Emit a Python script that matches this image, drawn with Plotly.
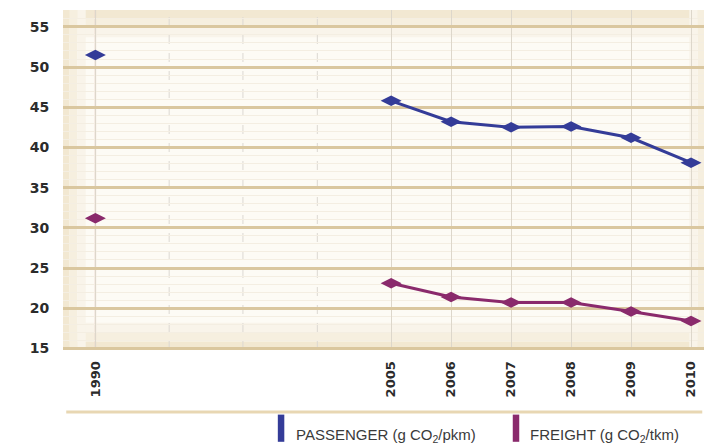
import plotly.graph_objects as go

years = ["1990", "2005", "2006", "2007", "2008", "2009", "2010"]
passenger = [51.5, 45.8, 43.2, 42.5, 42.6, 41.2, 38.1]
freight = [31.2, 23.1, 21.4, 20.7, 20.7, 19.6, 18.4]
y_ticks = [15, 20, 25, 30, 35, 40, 45, 50, 55]

# axis positions: 2005..2010 are one unit apart, 1990 sits further left (broken axis)
def xpos(y):
    y = int(y)
    return y - 2005 if y >= 2005 else -4.93

xs = [xpos(y) for y in years]
dash_x = [-3.70, -2.47, -1.23]

BLUE = "#343c98"
MAG = "#8a2a6c"
TAN = "#dac79f"
TICKFONT = "DejaVu Sans, Liberation Sans, Arial"
LEGFONT = "Liberation Sans, Arial"

fig = go.Figure()

for vals, col in ((passenger, BLUE), (freight, MAG)):
    fig.add_trace(go.Scatter(x=xs[1:], y=vals[1:], mode="lines+markers",
                             line=dict(color=col, width=3),
                             marker=dict(symbol="diamond-wide", size=15, color=col),
                             showlegend=False, hoverinfo="skip"))
    fig.add_trace(go.Scatter(x=xs[:1], y=vals[:1], mode="markers",
                             marker=dict(symbol="diamond-wide", size=15, color=col),
                             showlegend=False, hoverinfo="skip"))

shapes = []
# background edge shading (cream gradient toward edges)
for c, a, b in [("#f2e8d2", 0.0, 0.025), ("#f6efdf", 0.025, 0.05), ("#f9f4ea", 0.05, 0.08)]:
    shapes.append(dict(type="rect", xref="paper", yref="paper", x0=0, x1=1, y0=1 - b, y1=1 - a,
                       fillcolor=c, line_width=0, layer="below"))
    shapes.append(dict(type="rect", xref="paper", yref="paper", x0=0, x1=1, y0=a, y1=b,
                       fillcolor=c, line_width=0, layer="below"))
for c, a, b in [("#f2e8d2", 0.0, 0.01), ("#f6efdf", 0.01, 0.022), ("#f9f4ea", 0.022, 0.035)]:
    shapes.append(dict(type="rect", xref="paper", yref="paper", x0=a, x1=b, y0=0, y1=1,
                       fillcolor=c, line_width=0, layer="below"))
    shapes.append(dict(type="rect", xref="paper", yref="paper", x0=1 - b, x1=1 - a, y0=0, y1=1,
                       fillcolor=c, line_width=0, layer="below"))
# dashed separators in the axis gap
for dx in dash_x:
    shapes.append(dict(type="line", xref="x", yref="paper", x0=dx, x1=dx, y0=0, y1=1,
                       line=dict(color="#dcd8d2", width=1, dash="dash"), layer="below"))
# light pink line at 1990
shapes.append(dict(type="line", xref="x", yref="paper", x0=xs[0], x1=xs[0], y0=0, y1=1,
                   line=dict(color="#ead3cc", width=1.5), layer="below"))
# separator line above legend
shapes.append(dict(type="line", xref="paper", yref="paper", x0=0.005, x1=0.985,
                   y0=-0.182, y1=-0.182, line=dict(color="#e8d7b3", width=3)))
# legend bars
shapes.append(dict(type="rect", xref="paper", yref="paper", x0=0.331, x1=0.341,
                   y0=-0.27, y1=-0.19, fillcolor=BLUE, line_width=0))
shapes.append(dict(type="rect", xref="paper", yref="paper", x0=0.693, x1=0.703,
                   y0=-0.27, y1=-0.19, fillcolor=MAG, line_width=0))

annotations = [
    dict(xref="paper", yref="paper", x=0.356, y=-0.25, xanchor="left", yanchor="middle",
         text="PASSENGER (g CO<sub>2</sub>/pkm)", showarrow=False,
         font=dict(family=LEGFONT, size=15, color="#3a3a3a")),
    dict(xref="paper", yref="paper", x=0.717, y=-0.25, xanchor="left", yanchor="middle",
         text="FREIGHT (g CO<sub>2</sub>/tkm)", showarrow=False,
         font=dict(family=LEGFONT, size=15, color="#3a3a3a")),
]

fig.update_layout(
    width=704, height=438,
    margin=dict(l=55, r=0, t=2, b=96),
    paper_bgcolor="white",
    plot_bgcolor="#fdfbf5",
    shapes=shapes,
    annotations=annotations,
    showlegend=False,
    xaxis=dict(range=[-5.47, 5.35], tickmode="array", tickvals=xs, ticktext=years,
               tickangle=-90, showgrid=True, gridcolor="#ddd7cb", gridwidth=1,
               zeroline=False, showline=False, ticks="outside", ticklen=5,
               tickcolor="rgba(0,0,0,0)",
               tickfont=dict(family=TICKFONT, size=13, color="#2b2b2b", weight="bold")),
    yaxis=dict(range=[14.8, 57.1], tickmode="array", tickvals=y_ticks,
               showgrid=True, gridcolor=TAN, gridwidth=2.5, zeroline=False, showline=False,
               ticks="outside", ticklen=10, tickcolor="rgba(0,0,0,0)",
               minor=dict(dtick=1, showgrid=True, gridcolor="#f4eee2", gridwidth=1),
               tickfont=dict(family=TICKFONT, size=14, color="#2b2b2b", weight="bold")),
)

fig.write_html("out.html")
